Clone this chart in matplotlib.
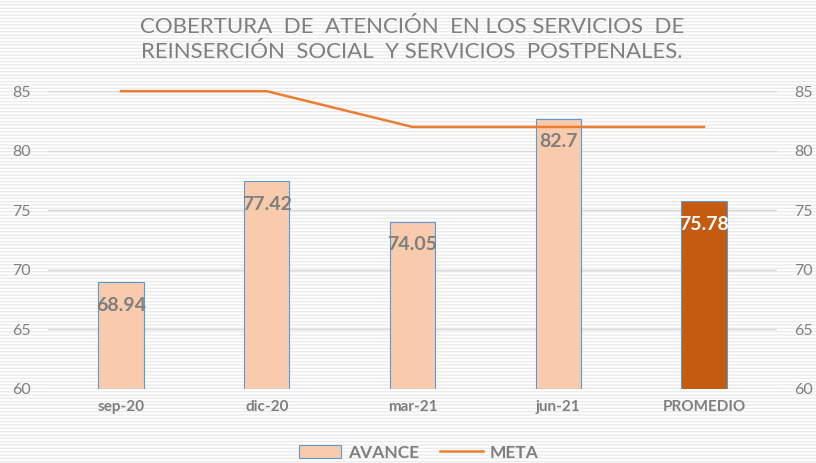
import matplotlib.pyplot as plt
from matplotlib.patches import Rectangle
from matplotlib.lines import Line2D

CATEGORIES = ["sep-20", "dic-20", "mar-21", "jun-21", "PROMEDIO"]
AVANCE = [68.94, 77.42, 74.05, 82.7, 75.78]
META = [85, 85, 82, 82, 82]
Y_TICKS = [60, 65, 70, 75, 80, 85]
TITLE = "COBERTURA  DE  ATENCIÓN  EN LOS SERVICIOS  DE\nREINSERCIÓN  SOCIAL  Y SERVICIOS  POSTPENALES."

GRAY = "#7f7f7f"
PEACH = "#f8cbad"
DARK_ORANGE = "#c55a11"
ORANGE = "#ed7d31"
BLUE = "#5b9bd5"

plt.rcParams["font.family"] = ["Lato", "DejaVu Sans"]
plt.rcParams["hatch.linewidth"] = 1.0

fig = plt.figure(figsize=(8.16, 4.63), dpi=100)
fig.patch.set_facecolor("white")

# striped background
bg = Rectangle((0, 0), 1, 1, transform=fig.transFigure, facecolor="white",
               edgecolor="#ebebeb", hatch="-----", linewidth=0, zorder=-10)
fig.patches.append(bg)

ax = fig.add_axes([0.059, 0.160, 0.893, 0.643])
ax.set_facecolor("none")

x = list(range(len(CATEGORIES)))
colors = [PEACH] * (len(CATEGORIES) - 1) + [DARK_ORANGE]
ax.bar(x, [v - 60 for v in AVANCE], bottom=60, width=0.31, color=colors,
       edgecolor=BLUE, linewidth=0.8, zorder=3)
ax.plot(x, META, color=ORANGE, linewidth=1.8, zorder=4, clip_on=False)

for i, v in enumerate(AVANCE):
    label_color = "white" if i == len(AVANCE) - 1 else GRAY
    ax.text(i, v - 1.95, f"{v:g}", ha="center", va="center", fontsize=14,
            fontweight="bold", color=label_color, zorder=5)

ax.set_xlim(-0.5, 4.5)
ax.set_ylim(60, 85)
ax.set_yticks(Y_TICKS)
ax.set_xticks(x)
ax.set_xticklabels(CATEGORIES, fontweight="bold", fontsize=11, color=GRAY)
ax.grid(axis="y", color="#d9d9d9", linewidth=1.0, zorder=0)
ax.set_axisbelow(True)
for s in ax.spines.values():
    s.set_visible(False)
ax.tick_params(axis="y", left=False, right=False, labelleft=True,
               labelright=True, labelsize=11.5, labelcolor=GRAY, pad=9)
ax.tick_params(axis="x", length=0, pad=8)

fig.text(0.505, 0.915, TITLE, ha="center", va="center", fontsize=16,
         color=GRAY, linespacing=1.35)

handles = [
    Rectangle((0, 0), 1, 1, facecolor=PEACH, edgecolor=BLUE, linewidth=0.8),
    Line2D([0], [0], color=ORANGE, linewidth=1.8),
]
fig.legend(handles, ["AVANCE", "META"], loc="center", bbox_to_anchor=(0.513, 0.022),
           ncol=2, frameon=False, labelcolor=GRAY,
           handlelength=2.45, handleheight=0.8, handletextpad=0.4,
           columnspacing=1.2, prop={"size": 12.5, "weight": "bold"})

fig.savefig("out.png", dpi=100)
